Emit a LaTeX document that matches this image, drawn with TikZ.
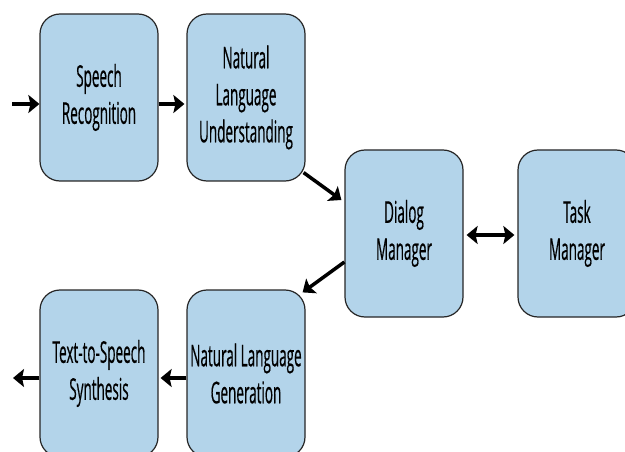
\documentclass[tikz,border=0pt]{standalone}
\usepackage{fontspec}
\setmainfont{Open Sans}[FakeStretch=0.45,FakeBold=0.4]
\usetikzlibrary{arrows.meta,calc}
\definecolor{boxblue}{HTML}{B3D4EA}
\begin{document}
\begin{tikzpicture}[x=1pt,y=-1pt,
  stage/.style={draw=black!85, line width=1.2pt, fill=boxblue, rounded corners=20pt,
    minimum width=118pt, minimum height=167pt, align=center, inner sep=0pt,
    font=\fontsize{30}{37}\selectfont},
  arr/.style={line width=3.5pt, -{Stealth[length=11pt,width=18pt,inset=2pt]}},
  darr/.style={line width=3.5pt, {Stealth[length=11pt,width=18pt,inset=2pt]}-{Stealth[length=11pt,width=18pt,inset=2pt]}}]
\useasboundingbox (0,0) rectangle (625,452);
\node[stage] (SR) at (99,97.5) {Speech\\Recognition};
\node[stage] (NLU) at (246,97.5) {Natural\\Language\\Understanding};
\node[stage] (DM) at (404,233.5) {Dialog\\Manager};
\node[stage] (TM) at (577,233.5) {Task\\Manager};
\node[stage] (TTS) at (99,373.5) {Text-to-Speech\\Synthesis};
\node[stage] (NLG) at (246,373.5) {Natural Language\\Generation};
\coordinate (in) at (12,104);
\coordinate (out) at (13,378);
\draw[arr] (in) -- (in -| SR.west);
\draw[arr] ($(SR.east)+(0,6.5)$) -- ($(NLU.west)+(-2,6.5)$);
\draw[arr] ($(NLU.south east)+(-2,-9)$) -- ($(DM.west)+(-3,-33.5)$);
\draw[darr] ($(DM.east)+(3,1.5)$) -- ($(TM.west)+(-3,1.5)$);
\draw[arr] ($(DM.west)+(0,28.5)$) -- ($(NLG.north east)+(-3,3)$);
\draw[arr] ($(NLG.west)+(0,4.5)$) -- ($(TTS.east)+(2,4.5)$);
\draw[arr] ($(TTS.west)+(0,4.5)$) -- (out);
\end{tikzpicture}
\end{document}
